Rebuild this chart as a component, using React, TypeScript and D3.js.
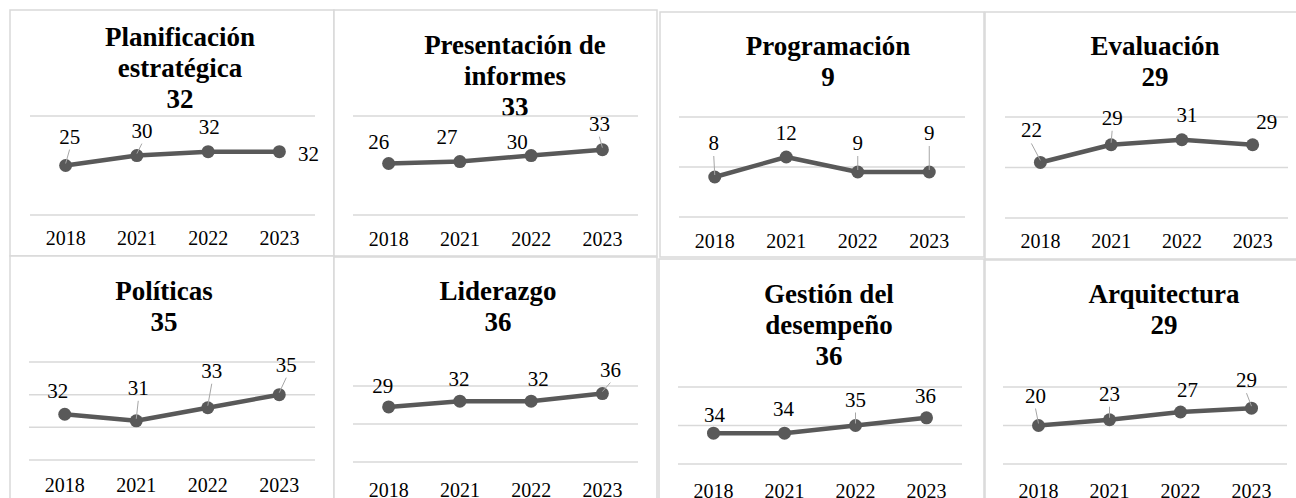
import * as d3 from "d3";

const years = ["2018", "2021", "2022", "2023"];

const planificacion = [25, 30, 32, 32];
const presentacion = [26, 27, 30, 33];
const programacion = [8, 12, 9, 9];
const evaluacion = [22, 29, 31, 29];
const politicas = [32, 31, 33, 35];
const liderazgo = [29, 32, 32, 36];
const gestion = [34, 34, 35, 36];
const arquitectura = [20, 23, 27, 29];

const series = [planificacion, presentacion, programacion, evaluacion, politicas, liderazgo, gestion, arquitectura];

const titles = [
  ["Planificación", "estratégica"],
  ["Presentación de", "informes"],
  ["Programación"],
  ["Evaluación"],
  ["Políticas"],
  ["Liderazgo"],
  ["Gestión del", "desempeño"],
  ["Arquitectura"],
];

const yTicks = [
  [0, 50],
  [0, 50],
  [0, 10, 20],
  [0, 20, 40],
  [25, 30, 35, 40],
  [0, 20, 40],
  [30, 35, 40],
  [0, 20, 40],
];

// panel geometry (box, plot area, title placement, label nudges)
const layout = [
  { box: [10, 10, 324, 246], x0: 30, x1: 315, top: 116, bottom: 215, tx: 180, ty: 46, tickDy: 30,
    nudge: [[4, -22], [5, -18], [1, -18], [29, 9]], leader: [1, 1, 0, 0] },
  { box: [334, 10, 323, 246], x0: 353, x1: 638, top: 116, bottom: 215, tx: 515, ty: 54, tickDy: 31,
    nudge: [[-10, -15], [-13, -18], [-14, -7], [-3, -19]], leader: [0, 0, 0, 1] },
  { box: [660, 12, 324, 245], x0: 679, x1: 965, top: 117, bottom: 217, tx: 828, ty: 55, tickDy: 31,
    nudge: [[-1, -27], [0, -17], [0, -22], [0, -32]], leader: [1, 0, 1, 1] },
  { box: [985, 12, 330, 247], x0: 1005, x1: 1288, top: 117, bottom: 218, tx: 1155, ty: 55, tickDy: 30,
    nudge: [[-9, -25], [1, -20], [5, -18], [14, -16]], leader: [1, 1, 0, 0] },
  { box: [10, 256, 324, 260], x0: 29, x1: 315, top: 362, bottom: 460, tx: 164, ty: 300, tickDy: 32,
    nudge: [[-7, -16], [2, -26], [4, -30], [7, -23]], leader: [0, 1, 1, 1] },
  { box: [334, 257, 323, 260], x0: 353, x1: 638, top: 386, bottom: 462, tx: 498, ty: 300, tickDy: 35,
    nudge: [[-6, -14], [-1, -15], [7, -15], [8, -17]], leader: [0, 0, 0, 1] },
  { box: [659, 259, 325, 260], x0: 678, x1: 962, top: 387, bottom: 464, tx: 829, ty: 303, tickDy: 34,
    nudge: [[1, -11], [-1, -17], [0, -19], [-1, -15]], leader: [0, 0, 1, 0] },
  { box: [985, 260, 330, 260], x0: 1003, x1: 1287, top: 387, bottom: 464, tx: 1164, ty: 303, tickDy: 34,
    nudge: [[-3, -23], [0, -19], [7, -15], [-5, -21]], leader: [1, 1, 0, 1] },
];

const FONT = "'Liberation Serif', 'DejaVu Serif', 'Times New Roman', serif";
const GRID = "#d9d9d9";
const LINE = "#595959";

function Panel({ values, title, ticks, lay }) {
  const x = d3.scalePoint().domain(years).range([lay.x0, lay.x1]).padding(0.5);
  const y = d3.scaleLinear().domain(d3.extent(ticks)).range([lay.bottom, lay.top]);
  const line = d3.line<number>().x((d, i) => x(years[i])).y((d) => y(d));
  const lines = [...title, String(values[values.length - 1])];
  const [bx, by, bw, bh] = lay.box;

  return (
    <g>
      <rect x={bx} y={by} width={bw} height={bh} fill="#fff" stroke={GRID} strokeWidth={1.5} />
      {lines.map((t, i) => (
        <text key={i} x={lay.tx} y={lay.ty + i * 31} textAnchor="middle"
          style={{ fontFamily: FONT, fontWeight: 700, fontSize: 27 }} fill="#000">{t}</text>
      ))}
      {ticks.map((t) => (
        <line key={t} x1={lay.x0} x2={lay.x1} y1={y(t)} y2={y(t)} stroke={GRID} strokeWidth={1.5} />
      ))}
      {years.map((yr) => (
        <text key={yr} x={x(yr)} y={lay.bottom + lay.tickDy} textAnchor="middle"
          style={{ fontFamily: FONT, fontSize: 20 }} fill="#000">{yr}</text>
      ))}
      <path d={line(values)} fill="none" stroke={LINE} strokeWidth={4.5} strokeLinejoin="round" />
      {values.map((v, i) => (
        <circle key={i} cx={x(years[i])} cy={y(v)} r={6.5} fill={LINE} />
      ))}
      {values.map((v, i) => {
        const px = x(years[i]);
        const py = y(v);
        const [dx, dy] = lay.nudge[i];
        return (
          <g key={i}>
            {lay.leader[i] ? (
              <line x1={px + dx} y1={py + dy + 6} x2={px} y2={py - 2} stroke="#a6a6a6" strokeWidth={1} />
            ) : null}
            <text x={px + dx} y={py + dy} textAnchor="middle"
              style={{ fontFamily: FONT, fontSize: 21 }} fill="#000">{v}</text>
          </g>
        );
      })}
    </g>
  );
}

export default function App() {
  return (
    <svg width={1296} height={498} style={{ position: "absolute", left: 0, top: 0, background: "#fff" }}>
      {series.map((s, i) => (
        <Panel key={i} values={s} title={titles[i]} ticks={yTicks[i]} lay={layout[i]} />
      ))}
    </svg>
  );
}
